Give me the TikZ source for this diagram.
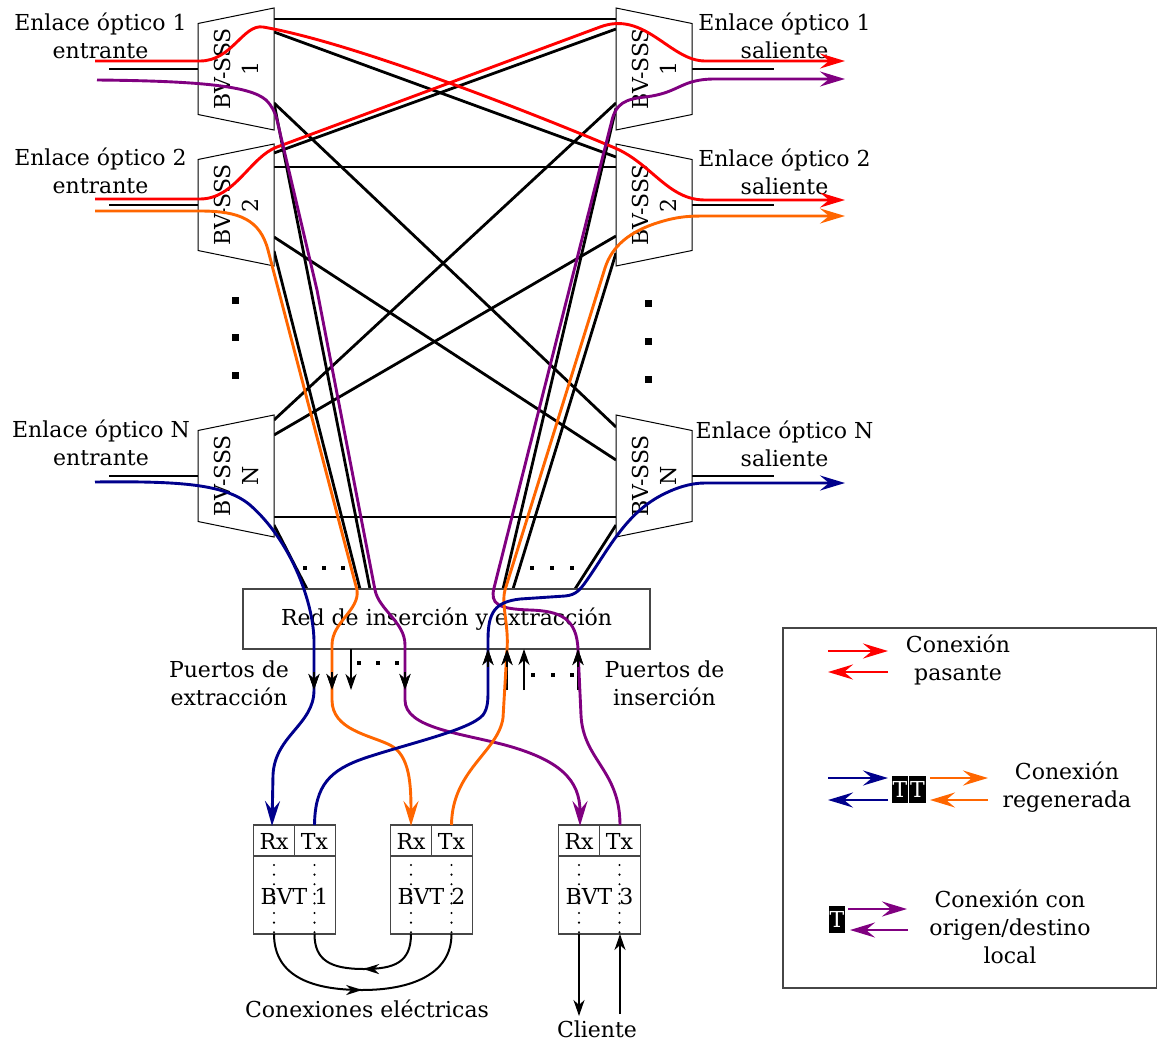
\documentclass[tikz,border=0pt]{standalone}
\usepackage{fontspec}
\setmainfont{DejaVu Serif}
\usetikzlibrary{arrows.meta,decorations.markings}
\definecolor{cred}{RGB}{255,0,0}
\definecolor{cpurple}{RGB}{128,0,128}
\definecolor{cnavy}{RGB}{0,0,140}
\definecolor{corange}{RGB}{255,102,0}
\definecolor{boxgray}{RGB}{70,70,70}
\begin{document}
\begin{tikzpicture}[x=1pt,y=-1pt,
  every node/.style={font=\fontsize{22}{28}\selectfont, inner sep=0pt},
  fiber/.style={line width=2.8pt, black},
  lp/.style={line width=2.9pt},
  bigtip/.style={-{Stealth[length=25pt,width=15pt,inset=9pt]}},
  porttip/.style={-{Stealth[length=16pt,width=11pt,inset=5pt]}},
  smalltip/.style={-{Stealth[length=16pt,width=11pt,inset=5pt]}},
  portarrow/.style={line width=2pt, black, porttip},
  sssbox/.style={draw=black, line width=1pt, fill=white},
  graybox/.style={draw=boxgray, line width=1.2pt},
  tbox/.style={fill=black, text=white, minimum width=16.5pt, minimum height=27pt},
  dotcol/.style={line width=2.4pt, line cap=round, dash pattern=on 0pt off 9.6pt},
  elec/.style={line width=2pt, postaction={decorate},
    decoration={markings, mark=at position 0.5 with {\arrow{Stealth[length=16pt,width=10pt,inset=5pt]}}}},
]
\useasboundingbox (0,0) rectangle (1157,1041);

% ---------- input / output stubs ----------
\foreach \cy in {69,205,476} {
  \draw[fiber] (109,\cy) -- (198,\cy);
  \draw[fiber] (692,\cy) -- (774,\cy);
}

% ---------- fibres between the two sides ----------
\draw[fiber] (274,19) -- (616,19);
\draw[fiber] (274,32) -- (616,157);
\draw[fiber] (274,103) -- (616,427);
\draw[fiber] (274,153) -- (616,29);
\draw[fiber] (274,167) -- (616,167);
\draw[fiber] (274,237) -- (616,460);
\draw[fiber] (616,103) -- (274,420);
\draw[fiber] (616,236) -- (274,435);
\draw[fiber] (274,517) -- (616,517);
% towards the add/drop network
\draw[fiber] (274,103) -- (370,589);
\draw[fiber] (274,251) -- (360,589);
\draw[fiber] (274,525) -- (307,589);
\draw[fiber] (616,108) -- (503,589);
\draw[fiber] (616,253) -- (513,589);
\draw[fiber] (616,525) -- (575,589);

% ---------- BV-SSS blocks ----------
\foreach \cy/\lab in {69/1,205/2,476/N} {
  \draw[sssbox] (198,\cy-45.5) -- (274,\cy-61) -- (274,\cy+61) -- (198,\cy+45.5) -- cycle;
  \node[rotate=90, align=center] (L\lab) at (236,\cy) {BV-SSS\\\lab};
  \draw[sssbox] (692,\cy-45.5) -- (616,\cy-61) -- (616,\cy+61) -- (692,\cy+45.5) -- cycle;
  \node[rotate=90, align=center] (R\lab) at (654,\cy) {BV-SSS\\\lab};
}

% vertical ellipsis between the blocks
\foreach \y in {297,334,372} \fill (231.5,\y) rectangle +(7,7);
\foreach \y in {300,338,376} \fill (644.5,\y) rectangle +(7,7);

% horizontal ellipsis above the network
\foreach \x in {305,324,343,532,552,572} \fill (\x-2.3,565.7) rectangle +(4.6,4.6);

% ---------- link labels ----------
\node[align=center] (inA) at (100.5,36) {Enlace óptico 1\\entrante};
\node[align=center] (inB) at (100.5,171) {Enlace óptico 2\\entrante};
\node[align=center] (inN) at (101,443) {Enlace óptico N\\entrante};
\node[align=center] (outA) at (784.5,36) {Enlace óptico 1\\saliente};
\node[align=center] (outB) at (784.5,172) {Enlace óptico 2\\saliente};
\node[align=center] (outN) at (784.5,444) {Enlace óptico N\\saliente};

% ---------- add/drop network ----------
\node[graybox, fill=white, minimum width=407pt, minimum height=60pt] (adn) at (446.5,619) {Red de inserción y extracción};

% drop and add ports
\foreach \x in {314,332,351,405} \draw[portarrow] (\x,649) -- (\x,690);
\foreach \x in {488,507,524,578} \draw[portarrow] (\x,690) -- (\x,649);
\foreach \x in {359,378,397} \fill (\x-2.3,660.7) rectangle +(4.6,4.6);
\foreach \x in {533,553,572} \fill (\x-2.3,672.7) rectangle +(4.6,4.6);

\node[align=center] (drop) at (229,683) {Puertos de\\extracción};
\node[align=center] (add) at (664.5,683) {Puertos de\\inserción};

% ---------- transponders ----------
\foreach \n/\cx in {1/294.5,2/431.5,3/599.5} {
  \node[graybox, minimum width=82pt, minimum height=109pt] (bvt\n) at (\cx,879.5) {};
  \draw[graybox] (\cx-41,856) -- (\cx+41,856);
  \draw[graybox] (\cx,825) -- (\cx,856);
  \node (rx\n) at (\cx-20.5,841) {Rx};
  \node (tx\n) at (\cx+20,841) {Tx};
  \draw[dotcol] (\cx-20.5,865) -- (\cx-20.5,934);
  \draw[dotcol] (\cx+20,865) -- (\cx+20,934);
  \node (lbl\n) at (\cx,896) {BVT \n};
}

% electrical links
\draw[elec] (274,934) .. controls (274,978) and (315,990) .. (362,990) .. controls (410,990) and (451.5,975) .. (451.5,934);
\draw[elec] (411,934) .. controls (411,962) and (395,969) .. (364,969) .. controls (330,969) and (314.5,960) .. (314.5,934);
\node (elab) at (367,1009) {Conexiones eléctricas};

% client side
\draw[line width=2pt, smalltip] (579,934) -- (579,1016);
\draw[line width=2pt, smalltip] (620,1014) -- (620,934);
\node (client) at (597,1029) {Cliente};

% ---------- light paths ----------
% pass-through connections
\draw[lp,cred,bigtip] (95,61) -- (200,61) .. controls (232,61) and (243,24) .. (263,27)
  .. controls (350,42) and (520,108) .. (615,148) .. controls (652,164) and (668,200) .. (705,200) -- (845,200);
\draw[lp,cred,bigtip] (95,199) -- (200,199) .. controls (235,199) and (250,157) .. (277,147)
  -- (600,27) .. controls (645,10) and (670,61) .. (705,61) -- (845,61);

% local origin/destination
\draw[lp,cpurple,bigtip] (97,80) .. controls (200,81) and (250,86) .. (266,100)
  .. controls (272,106) and (275,112) .. (277,120) -- (317,290) -- (375,590)
  .. controls (379,610) and (405,622) .. (405,645) -- (405,700)
  .. controls (405,728) and (460,733) .. (505,745) .. controls (560,760) and (580,780) .. (580,826);
\draw[lp,cpurple,bigtip] (620,825) .. controls (620,770) and (583,760) .. (581,715) -- (578,650)
  .. controls (577,618) and (560,611) .. (530,610) .. controls (498,609) and (490,604) .. (494,588)
  -- (612,120) .. controls (616,104) and (625,99) .. (645,97) .. controls (680,93) and (680,79) .. (715,79) -- (845,79);

% regenerated connections
\draw[lp,corange,bigtip] (95,211) -- (200,211) .. controls (240,211) and (260,220) .. (268,250) -- (357,590)
  .. controls (360,610) and (332,622) .. (332,645) -- (332,700)
  .. controls (332,730) and (370,735) .. (390,745) .. controls (410,755) and (411,785) .. (411,826);
\draw[lp,corange,bigtip] (451.5,825) .. controls (452,770) and (498,752) .. (503,718) -- (507,650)
  .. controls (509,625) and (501,605) .. (505,590) -- (605,268)
  .. controls (612,246) and (630,231) .. (660,222) .. controls (680,216) and (690,216) .. (710,216) -- (845,216);
\draw[lp,cnavy,bigtip] (95,482) .. controls (180,481) and (225,484) .. (250,505)
  .. controls (290,540) and (313,600) .. (314,640) -- (314,690)
  .. controls (314,725) and (275,735) .. (273,775) -- (272,826);
\draw[lp,cnavy,bigtip] (314.5,825) .. controls (315,785) and (330,770) .. (365,758)
  .. controls (410,743) and (470,730) .. (483,715) .. controls (488,708) and (488,700) .. (488,690)
  -- (488,640) .. controls (488,612) and (495,602) .. (520,599) -- (565,596)
  .. controls (576,595) and (580,590) .. (587,580) .. controls (608,550) and (625,515) .. (660,496)
  .. controls (675,488) and (690,483) .. (705,483) -- (845,483);

% port tips stay visible on top of the paths
\foreach \x in {314,332,405} \draw[line width=2pt, porttip] (\x,672) -- (\x,690);
\foreach \x in {488,507,578} \draw[line width=2pt, porttip] (\x,667) -- (\x,649);

% ---------- legend ----------
\draw[graybox] (783,628) rectangle (1156.4,988);
\draw[lp,cred,bigtip] (828,651) -- (888,651);
\draw[lp,cred,bigtip] (888,672) -- (828,672);
\node[align=center] (lgA) at (958,660) {Conexión\\pasante};

\draw[lp,cnavy,bigtip] (828,778) -- (888,778);
\draw[lp,cnavy,bigtip] (888,800) -- (828,800);
\node[tbox] (tA) at (900,789.5) {T};
\node[tbox] (tB) at (917.5,789.5) {T};
\draw[lp,corange,bigtip] (930,778) -- (988,778);
\draw[lp,corange,bigtip] (988,800) -- (930,800);
\node[align=center] (lgB) at (1067,787) {Conexión\\regenerada};

\node[tbox] (tC) at (837,919.5) {T};
\draw[lp,cpurple,bigtip] (848,909) -- (907,909);
\draw[lp,cpurple,bigtip] (908,930) -- (850,930);
\node[align=center] (lgC) at (1010,927) {Conexión con\\origen/destino\\local};
\end{tikzpicture}
\end{document}
